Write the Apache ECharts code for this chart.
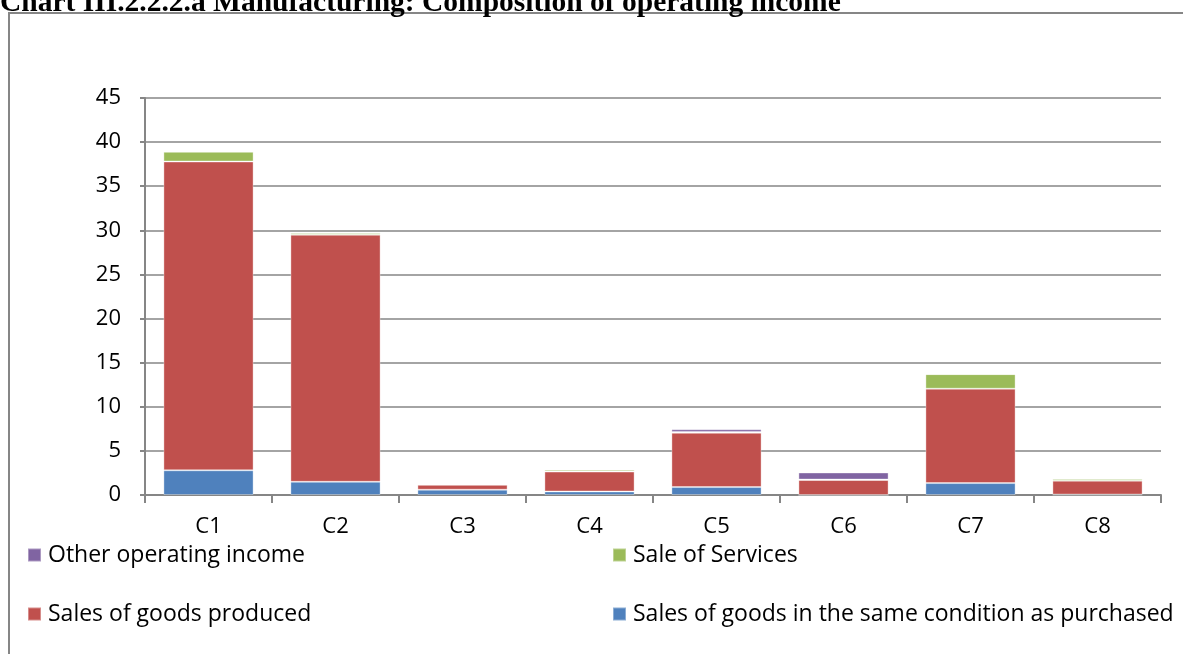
<!DOCTYPE html>
<html>
<head>
<meta charset="utf-8">
<script src="https://cdn.jsdelivr.net/npm/echarts@6/dist/echarts.min.js"></script>
<style>
html,body{margin:0;padding:0;background:#fff;}
#chart{width:1183px;height:654px;}
</style>
</head>
<body>
<div id="chart"></div>
<script>
const categories = ['C1', 'C2', 'C3', 'C4', 'C5', 'C6', 'C7', 'C8'];
const salesSameCondition = [2.8, 1.5, 0.6, 0.4, 0.9, 0.0, 1.35, 0.05];
const salesProduced = [35.0, 28.0, 0.55, 2.25, 6.15, 1.7, 10.7, 1.57];
const saleServices = [1.1, 0.2, 0.05, 0.2, 0.1, 0.05, 1.65, 0.2];
const otherIncome = [0.05, 0.05, 0.02, 0.02, 0.3, 0.8, 0.02, 0.08];
const yTicks = [0, 5, 10, 15, 20, 25, 30, 35, 40, 45];

const names = {
  other: 'Other operating income',
  services: 'Sale of Services',
  produced: 'Sales of goods produced',
  same: 'Sales of goods in the same condition as purchased'
};
const colors = {
  other: '#8064A2',
  services: '#9BBB59',
  produced: '#C0504D',
  same: '#4F81BD'
};
const font = 'Open Sans';
const axisFs = 22;
const legendFs = 23;
const axisGrey = '#868686';

function legendFor(key, left, top) {
  return {
    data: [names[key]],
    left: left, top: top,
    padding: 0,
    icon: 'rect',
    itemWidth: 13, itemHeight: 13,
    selectedMode: false,
    textStyle: { fontFamily: font, fontSize: legendFs, color: '#000', padding: [0, 0, 0, 2], lineHeight: 28 }
  };
}

function bar(key, data) {
  return {
    name: names[key],
    type: 'bar',
    stack: 'total',
    data: data,
    barCategoryGap: '29%',
    itemStyle: { color: colors[key], borderColor: 'rgba(255,255,255,0.35)', borderWidth: 1 },
    emphasis: { disabled: true },
    animation: false
  };
}

const chart = echarts.init(document.getElementById('chart'));
chart.setOption({
  animation: false,
  backgroundColor: '#fff',
  title: {
    text: 'Chart III.2.2.2.a Manufacturing: Composition of operating income',
    left: 0, top: -12, padding: 0,
    textStyle: { fontFamily: 'Liberation Serif', fontWeight: 'bold', fontSize: 29.5, color: '#000', lineHeight: 30 }
  },
  graphic: [{
    type: 'rect', silent: true, z: -10,
    shape: { x: 9, y: 13, width: 1300, height: 900 },
    style: { fill: 'none', stroke: axisGrey, lineWidth: 2 }
  }],
  legend: [
    legendFor('other', 27, 541),
    legendFor('services', 612, 541),
    legendFor('produced', 27, 600),
    legendFor('same', 612, 600)
  ],
  grid: { left: 145, right: 22, top: 98, bottom: 159, containLabel: false },
  xAxis: {
    type: 'category',
    data: categories,
    boundaryGap: true,
    axisLine: { lineStyle: { color: axisGrey, width: 2 } },
    axisTick: { show: true, length: 8, lineStyle: { color: axisGrey, width: 2 } },
    axisLabel: { fontFamily: font, fontSize: axisFs, color: '#000', margin: 21 }
  },
  yAxis: {
    type: 'value',
    min: yTicks[0], max: yTicks[yTicks.length - 1], interval: 5,
    axisLine: { show: true, lineStyle: { color: axisGrey, width: 2 } },
    axisTick: { show: true, length: 5, lineStyle: { color: axisGrey, width: 2 } },
    splitLine: { show: true, lineStyle: { color: axisGrey, width: 1.5 } },
    axisLabel: { fontFamily: font, fontSize: axisFs, color: '#000', margin: 24 }
  },
  series: [
    bar('same', salesSameCondition),
    bar('produced', salesProduced),
    bar('services', saleServices),
    bar('other', otherIncome)
  ]
});
</script>
</body>
</html>
